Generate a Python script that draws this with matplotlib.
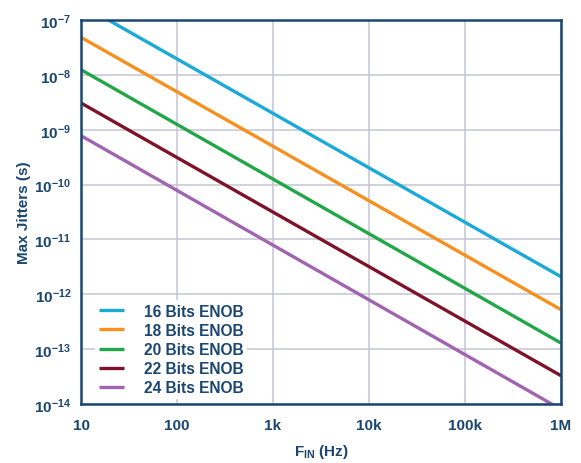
import matplotlib
matplotlib.use('Agg')

import numpy as np
import matplotlib.pyplot as plt
from matplotlib import rcParams

rcParams['font.family'] = ['Liberation Sans', 'DejaVu Sans']
rcParams['font.weight'] = 'bold'
rcParams['axes.labelweight'] = 'bold'
rcParams['mathtext.fontset'] = 'custom'
rcParams['mathtext.rm'] = 'Liberation Sans:bold'
rcParams['mathtext.it'] = 'Liberation Sans:bold'
rcParams['mathtext.bf'] = 'Liberation Sans:bold'

NAVY = '#1b4670'
GRID = '#c3c5d5'

# end points (straight lines on log-log axes)
freq_hz = [10, 1e6]
jitter_16 = [1.92e-7, 2.09e-12]
jitter_18 = [4.83e-8, 5.24e-13]
jitter_20 = [1.24e-8, 1.29e-13]
jitter_22 = [3.07e-9, 3.28e-14]
jitter_24 = [7.78e-10, 8.0e-15]

series_labels = ['16 Bits ENOB', '18 Bits ENOB', '20 Bits ENOB',
                 '22 Bits ENOB', '24 Bits ENOB']
series_colors = ['#1ba9d8', '#f7901e', '#22a748', '#7d1229', '#a064b0']

x_ticks = [10, 100, 1e3, 1e4, 1e5, 1e6]
x_tick_labels = ['10', '100', '1k', '10k', '100k', '1M']
y_ticks = [1e-14, 1e-13, 1e-12, 1e-11, 1e-10, 1e-9, 1e-8, 1e-7]
y_tick_labels = [r'$10^{-%d}$' % e for e in range(14, 6, -1)]

fig = plt.figure(figsize=(5.81, 4.64), dpi=100)
ax = fig.add_axes([81 / 581, 1 - 405 / 464, 480 / 581, 384 / 464])

all_series = [jitter_16, jitter_18, jitter_20, jitter_22, jitter_24]
for vals, lab, col in zip(all_series, series_labels, series_colors):
    ax.plot(freq_hz, vals, color=col, lw=2.4, label=lab, solid_capstyle='butt')

ax.set_xscale('log')
ax.set_yscale('log')
ax.set_xlim(10, 1e6)
ax.set_ylim(1e-14, 1e-7)

ax.set_xticks(x_ticks)
ax.set_xticklabels(x_tick_labels)
ax.set_yticks(y_ticks)
ax.set_yticklabels(y_tick_labels)
ax.minorticks_off()
ax.tick_params(length=0, labelsize=11, colors=NAVY)
ax.tick_params(axis='x', pad=10)
ax.tick_params(axis='y', pad=7)

ax.grid(True, color=GRID, lw=1.1)
ax.set_axisbelow(True)
for s in ax.spines.values():
    s.set_color(NAVY)
    s.set_linewidth(1.8)

ax.set_xlabel(r'F$_{\mathregular{IN}}$ (Hz)', color=NAVY, fontsize=11, labelpad=7)
ax.set_ylabel('Max Jitters (s)', color=NAVY, fontsize=11, labelpad=2)

leg = ax.legend(loc='lower left', bbox_to_anchor=(0.019, 0.0), frameon=True,
                fancybox=False, framealpha=1, edgecolor='none', facecolor='white',
                fontsize=11.2, handlelength=1.6, handletextpad=1.3,
                labelspacing=0.27, borderaxespad=0.3, borderpad=0.25)
for t in leg.get_texts():
    t.set_color(NAVY)

fig.savefig('out.png', dpi=100)
